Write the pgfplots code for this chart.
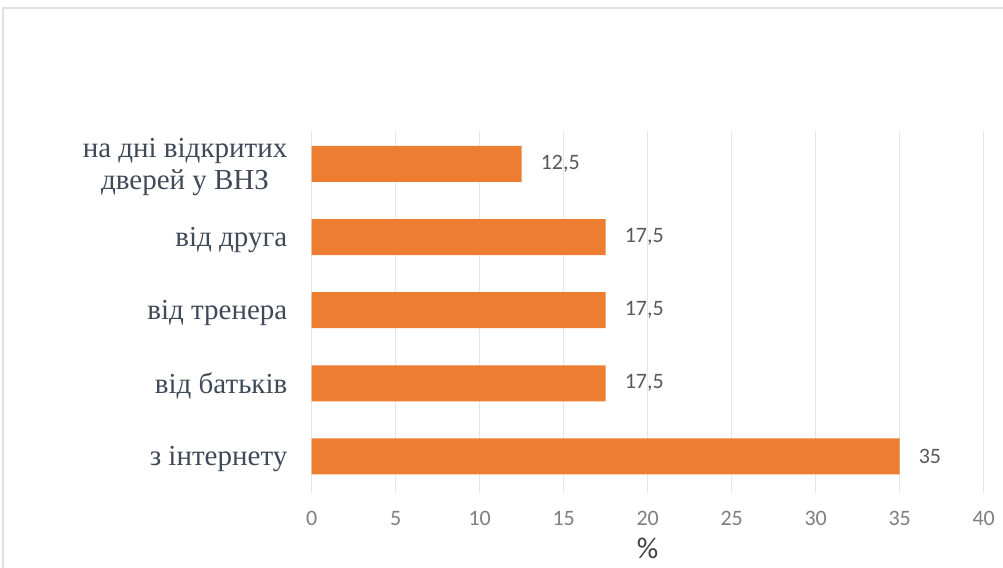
\documentclass[border=0pt]{standalone}
\usepackage{pgfplots}
\pgfplotsset{compat=1.18}
\usepackage{fontspec}
\setmainfont{Carlito}
\newfontfamily\catfont{Liberation Serif}
\definecolor{barorange}{HTML}{ED7D31}
\definecolor{catcol}{HTML}{3F4957}
\definecolor{tickcol}{HTML}{7F7F7F}
\definecolor{valcol}{HTML}{595959}
\definecolor{labcol}{HTML}{404040}
\definecolor{gridcol}{HTML}{E3E6EA}
\begin{document}
\begin{tikzpicture}
\useasboundingbox (0,0) rectangle (501.5pt,284pt);
\draw[draw=black!12, line width=1.2pt] (1.5pt,0pt) -- (1.5pt,280pt) -- (501.5pt,280pt);
\begin{axis}[
  at={(155.85pt,37.5pt)}, anchor=south west,
  scale only axis, width=336pt, height=181pt,
  xbar, bar width=18pt,
  xmin=0, xmax=40, ymin=-0.5, ymax=4.45,
  xtick={0,5,...,40},
  ytick={0,1,2,3,4},
  yticklabels={з інтернету, від батьків, від тренера, від друга, {на дні відкритих\\дверей у ВНЗ}},
  xmajorgrids, grid style={draw=gridcol, line width=0.6pt},
  axis line style={draw=none},
  major tick length=0pt,
  tick style={draw=none},
  /pgf/number format/assume math mode=true,
  /pgf/number format/use comma,
  xticklabel style={font=\fontsize{11}{13}\selectfont, text=tickcol, inner sep=0pt, anchor=north, yshift=-9pt},
  yticklabel style={font=\catfont\fontsize{14.5}{16}\selectfont, text=catcol, align=center, inner sep=0pt, anchor=east, xshift=-12pt, yshift=-1.5pt},
  xlabel={\%},
  xlabel style={at={(axis description cs:0.5,0)}, anchor=center, yshift=-27.5pt, font=\fontsize{15}{17}\selectfont, text=labcol},
  nodes near coords,
  every node near coord/.append style={anchor=west, xshift=6pt, font=\fontsize{11}{13}\selectfont, text=valcol},
]
\addplot[fill=barorange, draw=none] coordinates {(35,0) (17.5,1) (17.5,2) (17.5,3) (12.5,4)};
\end{axis}
\end{tikzpicture}
\end{document}
